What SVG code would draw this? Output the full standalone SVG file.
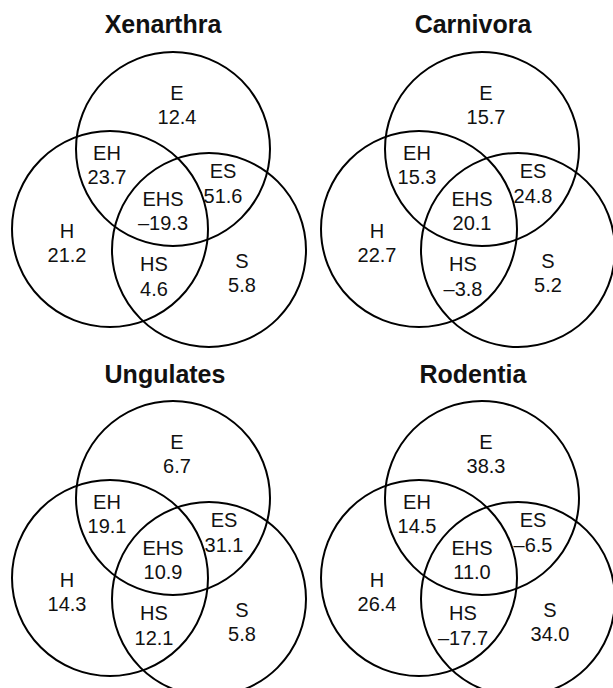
<svg xmlns="http://www.w3.org/2000/svg" width="613" height="688" viewBox="0 0 613 688">
<style>
  .c { fill: none; stroke: #000; stroke-width: 2; }
  .t { font-family: "Liberation Sans", Arial, sans-serif; font-weight: bold; font-size: 25px; text-anchor: middle; fill: #111; }
  .l { font-family: "Liberation Sans", Arial, sans-serif; font-size: 20px; text-anchor: middle; fill: #111; }
</style>
<rect width="613" height="688" fill="#fff"/>

<g id="xenarthra">
  <text class="t" x="163" y="33">Xenarthra</text>
  <g id="xen-E"><circle class="c" cx="173" cy="149" r="97"/><text class="l" x="177" y="100">E</text><text class="l" x="177" y="124">12.4</text></g>
  <g id="xen-H"><circle class="c" cx="110" cy="229" r="98"/><text class="l" x="67" y="238">H</text><text class="l" x="67" y="262">21.2</text></g>
  <g id="xen-S"><circle class="c" cx="209" cy="250" r="97"/><text class="l" x="242" y="268">S</text><text class="l" x="242" y="292">5.8</text></g>
  <g id="xen-EH"><text class="l" x="107" y="160">EH</text><text class="l" x="107" y="184">23.7</text></g>
  <g id="xen-ES"><text class="l" x="223" y="178">ES</text><text class="l" x="223" y="203">51.6</text></g>
  <g id="xen-EHS"><text class="l" x="163" y="206">EHS</text><text class="l" x="163" y="230">–19.3</text></g>
  <g id="xen-HS"><text class="l" x="154" y="271">HS</text><text class="l" x="154" y="296">4.6</text></g>
</g>

<g id="carnivora" transform="translate(309,0)">
  <text class="t" x="164" y="33">Carnivora</text>
  <g id="car-E"><circle class="c" cx="173" cy="149" r="97"/><text class="l" x="177" y="100">E</text><text class="l" x="177" y="124">15.7</text></g>
  <g id="car-H"><circle class="c" cx="110" cy="229" r="98"/><text class="l" x="68" y="238">H</text><text class="l" x="68" y="262">22.7</text></g>
  <g id="car-S"><circle class="c" cx="209" cy="250" r="97"/><text class="l" x="239" y="268">S</text><text class="l" x="239" y="292">5.2</text></g>
  <g id="car-EH"><text class="l" x="108" y="160">EH</text><text class="l" x="108" y="184">15.3</text></g>
  <g id="car-ES"><text class="l" x="224" y="178">ES</text><text class="l" x="224" y="203">24.8</text></g>
  <g id="car-EHS"><text class="l" x="163" y="206">EHS</text><text class="l" x="163" y="230">20.1</text></g>
  <g id="car-HS"><text class="l" x="154" y="271">HS</text><text class="l" x="154" y="296">–3.8</text></g>
</g>

<g id="ungulates" transform="translate(0,349)">
  <text class="t" x="165" y="34">Ungulates</text>
  <g id="ung-E"><circle class="c" cx="173" cy="149" r="97"/><text class="l" x="177" y="100">E</text><text class="l" x="177" y="124">6.7</text></g>
  <g id="ung-H"><circle class="c" cx="110" cy="229" r="98"/><text class="l" x="67" y="238">H</text><text class="l" x="67" y="262">14.3</text></g>
  <g id="ung-S"><circle class="c" cx="209" cy="250" r="97"/><text class="l" x="242" y="268">S</text><text class="l" x="242" y="292">5.8</text></g>
  <g id="ung-EH"><text class="l" x="107" y="160">EH</text><text class="l" x="107" y="184">19.1</text></g>
  <g id="ung-ES"><text class="l" x="224" y="178">ES</text><text class="l" x="224" y="203">31.1</text></g>
  <g id="ung-EHS"><text class="l" x="163" y="206">EHS</text><text class="l" x="163" y="230">10.9</text></g>
  <g id="ung-HS"><text class="l" x="154" y="271">HS</text><text class="l" x="154" y="296">12.1</text></g>
</g>

<g id="rodentia" transform="translate(309,349)">
  <text class="t" x="164" y="34">Rodentia</text>
  <g id="rod-E"><circle class="c" cx="173" cy="149" r="97"/><text class="l" x="177" y="100">E</text><text class="l" x="177" y="124">38.3</text></g>
  <g id="rod-H"><circle class="c" cx="110" cy="229" r="98"/><text class="l" x="68" y="238">H</text><text class="l" x="68" y="262">26.4</text></g>
  <g id="rod-S"><circle class="c" cx="209" cy="250" r="97"/><text class="l" x="241" y="268">S</text><text class="l" x="241" y="292">34.0</text></g>
  <g id="rod-EH"><text class="l" x="108" y="160">EH</text><text class="l" x="108" y="184">14.5</text></g>
  <g id="rod-ES"><text class="l" x="224" y="178">ES</text><text class="l" x="224" y="203">–6.5</text></g>
  <g id="rod-EHS"><text class="l" x="163" y="206">EHS</text><text class="l" x="163" y="230">11.0</text></g>
  <g id="rod-HS"><text class="l" x="154" y="271">HS</text><text class="l" x="154" y="296">–17.7</text></g>
</g>
</svg>
